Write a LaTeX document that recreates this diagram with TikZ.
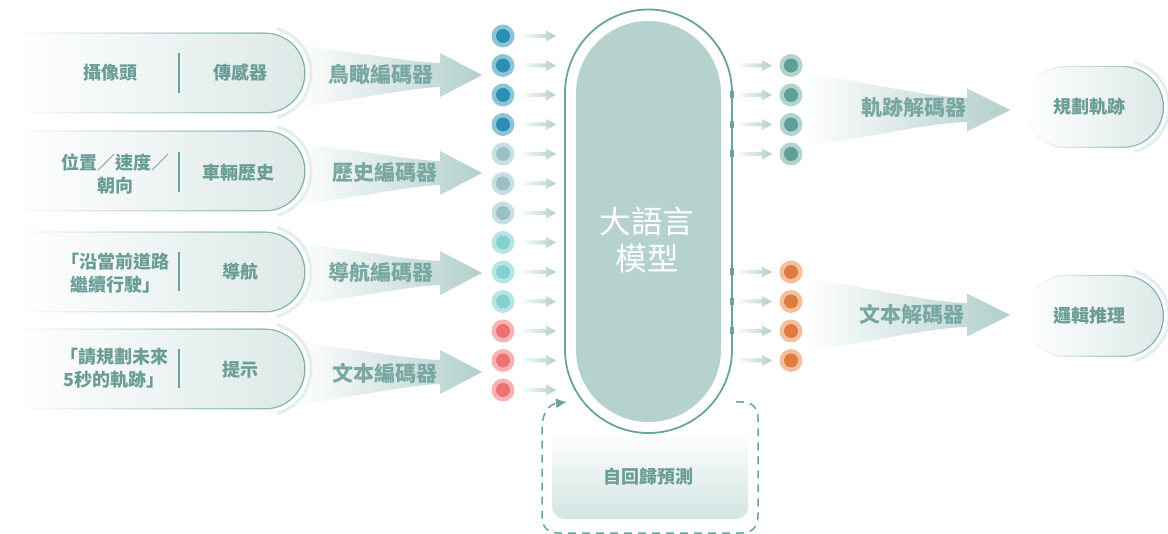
\documentclass[tikz,border=0pt]{standalone}
\usepackage{fontspec}
\setmainfont{Noto Sans CJK TC}
\usetikzlibrary{arrows.meta}
\definecolor{tealline}{HTML}{6AA39D}
\definecolor{bordc}{HTML}{7FB0A9}
\definecolor{fillc}{HTML}{DCE9E7}
\definecolor{haloc}{HTML}{E4EEED}
\definecolor{arrowc}{HTML}{B2CFCB}
\definecolor{labelc}{HTML}{79A7A1}
\definecolor{textc}{HTML}{6B9D97}
\definecolor{llmfill}{HTML}{B5D2CE}
\definecolor{boxbot}{HTML}{D3E5E2}
\definecolor{blueR}{HTML}{8EC4D6}
\definecolor{blueC}{HTML}{2A8FB3}
\definecolor{grayR}{HTML}{C9DEE1}
\definecolor{grayC}{HTML}{9BBFC5}
\definecolor{cyanR}{HTML}{B9E3E4}
\definecolor{cyanC}{HTML}{86CFD0}
\definecolor{redR}{HTML}{F6B3B3}
\definecolor{redC}{HTML}{EE7074}
\definecolor{tealR}{HTML}{B3D3CF}
\definecolor{tealC}{HTML}{5F9F97}
\definecolor{orR}{HTML}{F2BF9F}
\definecolor{orC}{HTML}{E07B40}
\tikzset{
 boxtxt/.style={text=textc, font=\fontsize{18}{23}\selectfont\bfseries, align=center, inner sep=0pt},
 enclbl/.style={text=labelc, font=\fontsize{21}{25}\selectfont\bfseries, inner sep=0pt},
 llmtxt/.style={text=white, font=\fontsize{31.5}{37}\selectfont, align=center, inner sep=0pt},
 divider/.style={draw=tealline, line width=2pt},
 llmline/.style={draw=tealline, line width=1.8pt},
 loopline/.style={draw=tealline, line width=1.5pt, dash pattern=on 8pt off 6pt},
 fshade/.style={left color=white, middle color=white!55!arrowc, right color=arrowc},
 halo/.style={draw=haloc, line width=3pt},
}
\newcommand\leftpill[1]{%
\begin{scope}[shift={(0,#1)}]
 \draw[halo] (276.9,-44.4) arc(-75:75:46);
 \shade[left color=white, right color=bordc, even odd rule]
   (15,-40.5) -- (265,-40.5) arc(-90:90:40.5) -- (15,40.5) -- cycle
   (15,-39) -- (265,-39) arc(-90:90:39) -- (15,39) -- cycle;
 \shade[left color=white, right color=fillc]
   (15,-39) -- (265,-39) arc(-90:90:39) -- (15,39) -- cycle;
\end{scope}}
\newcommand\rightpill[1]{%
\begin{scope}[shift={(0,#1)}]
 \draw[halo] (1134.9,-44.4) arc(-75:75:46);
 \shade[left color=white, right color=bordc, even odd rule]
   (1066,-41) -- (1123,-41) arc(-90:90:41) -- (1066,41) arc(90:270:41) -- cycle
   (1066,-39.5) -- (1123,-39.5) arc(-90:90:39.5) -- (1066,39.5) arc(90:270:39.5) -- cycle;
 \shade[left color=white, right color=fillc]
   (1066,-39.5) -- (1123,-39.5) arc(-90:90:39.5) -- (1066,39.5) arc(90:270:39.5) -- cycle;
\end{scope}}
\newcommand\encfunnel[1]{%
 \shade[fshade] (295,#1-30) .. controls (370,#1-21) and (410,#1-13) .. (440,#1-12)
   -- (440,#1-22) -- (482,#1) -- (440,#1+22) -- (440,#1+12)
   .. controls (410,#1+13) and (370,#1+22) .. (295,#1+33) -- cycle;}
\newcommand\decfunnel[1]{%
 \shade[fshade] (805,#1-37) .. controls (880,#1-25) and (930,#1-13) .. (967,#1-12)
   -- (967,#1-21.5) -- (1010,#1) -- (967,#1+21.5) -- (967,#1+12)
   .. controls (930,#1+13) and (880,#1+25) .. (805,#1+37) -- cycle;}
\newcommand\sarrow[2]{%
 \shade[left color=white, right color=arrowc] (#1,#2-2) -- ++(27,0) -- ++(0,-3.5)
   -- ++(10,5.5) -- ++(-10,5.5) -- ++(0,-3.5) -- ++(-27,0) -- cycle;}
\begin{document}
\begin{tikzpicture}[x=1pt,y=-1pt]
\useasboundingbox (0,0) rectangle (1168,534);
\fill[white] (0,0) rectangle (1168,534);

% autoregressive box and loop
\shade[top color=white, bottom color=boxbot, rounded corners=12] (552,428) rectangle (748,519);
\node[boxtxt] (ar) at (648,477) {自回歸預測};
\coordinate (loopstart) at (736,402);
\coordinate (looptip) at (567,402);
\draw[loopline, -{Latex[length=11pt,width=10pt]}] (loopstart) -- (742,402)
  .. controls (752,402) and (758,408) .. (758,418) -- (758,515)
  .. controls (758,527) and (752,533) .. (742,533) -- (558,533)
  .. controls (548,533) and (542,527) .. (542,517) -- (542,428)
  .. controls (542,412) and (550,404) .. (looptip);

% LLM pill
\draw[llmline, fill=white] (565,93) arc(180:360:83.5) -- (732,349.5) arc(0:180:83.5) -- cycle;
\fill[llmfill] (576,93.5) arc(180:360:72.5) -- (721,349.5) arc(0:180:72.5) -- cycle;
\node[llmtxt] (llm) at (647,240) {大語言\\模型};
\foreach \y in {95,124.5,154,272,301.5,331}{
  \fill[tealline] (730,\y-3.5) rectangle (733.5,\y+3.5);
}

% encoder funnels and input pills
\foreach \yc in {75,173,273,372}{ \encfunnel{\yc} }
\foreach \yc in {73,171,272,369}{ \leftpill{\yc} }

\node[boxtxt] (cam) at (110,73) {攝像頭};
\node[boxtxt] (sens) at (240,73) {傳感器};
\draw[divider] (179,53) -- (179,93);
\node[boxtxt] (pos) at (115,174) {位置／速度／\\朝向};
\node[boxtxt] (hist) at (238,173) {車輛歷史};
\draw[divider] (179,152) -- (179,192);
\node[boxtxt] (navq) at (115,273) {「沿當前道路\\繼續行駛」};
\node[boxtxt] (nav) at (240,272) {導航};
\draw[divider] (179,252) -- (179,291);
\node[boxtxt] (prq) at (114,368) {「請規劃未來\\5秒的軌跡」};
\node[boxtxt] (pr) at (240,370) {提示};
\draw[divider] (179,349) -- (179,388);

\node[enclbl] (enc1) at (381,74) {鳥瞰編碼器};
\node[enclbl] (enc2) at (385,173) {歷史編碼器};
\node[enclbl] (enc3) at (381,273) {導航編碼器};
\node[enclbl] (enc4) at (385,373) {文本編碼器};

% input tokens
\foreach \i/\r/\c in {0/blueR/blueC,1/blueR/blueC,2/blueR/blueC,3/blueR/blueC,
  4/grayR/grayC,5/grayR/grayC,6/grayR/grayC,7/cyanR/cyanC,8/cyanR/cyanC,9/cyanR/cyanC,
  10/redR/redC,11/redR/redC,12/redR/redC}{
  \pgfmathsetmacro\yy{36+29.5*\i}
  \fill[\r] (503,\yy) circle (11.5);
  \fill[\c] (503,\yy) circle (7);
  \coordinate (tokL\i) at (503,\yy);
  \sarrow{519}{\yy}
}

% output tokens
\foreach \i/\r/\c in {1/tealR/tealC,2/tealR/tealC,3/tealR/tealC,4/tealR/tealC,
  8/orR/orC,9/orR/orC,10/orR/orC,11/orR/orC}{
  \pgfmathsetmacro\yy{36+29.5*\i}
  \sarrow{735}{\yy}
  \fill[\r] (791,\yy) circle (11.5);
  \fill[\c] (791,\yy) circle (7);
  \coordinate (tokR\i) at (791,\yy);
}

% decoders
\decfunnel{110}
\decfunnel{315}
\node[enclbl] (dec1) at (914,108) {軌跡解碼器};
\node[enclbl] (dec2) at (912,314) {文本解碼器};

\rightpill{107}
\rightpill{316}
\node[boxtxt] (traj) at (1089,107) {規劃軌跡};
\node[boxtxt] (reason) at (1089,316) {邏輯推理};
\end{tikzpicture}
\end{document}
